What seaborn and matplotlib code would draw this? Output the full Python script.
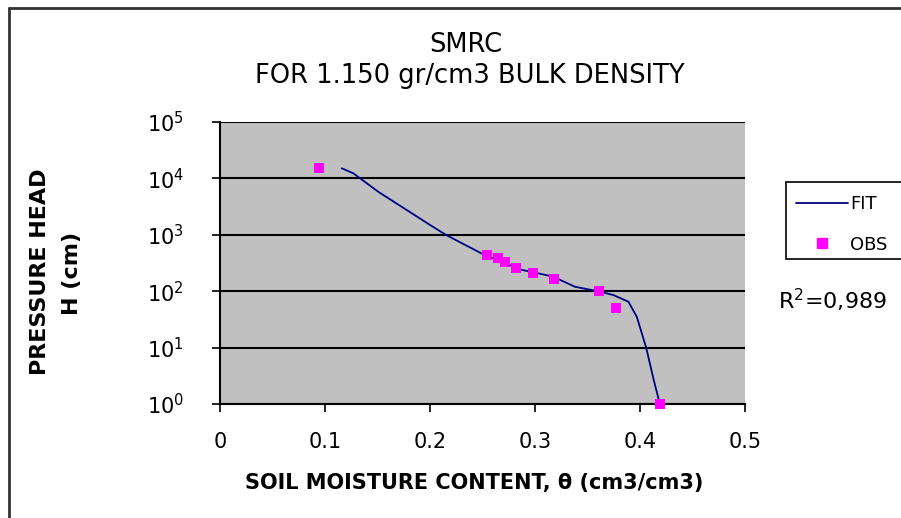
import matplotlib
matplotlib.use("Agg")
import matplotlib.pyplot as plt
from matplotlib.lines import Line2D
from matplotlib.patches import Rectangle
import pandas as pd
import seaborn as sns

# Observed retention points: volumetric water content vs pressure head (cm)
obs_theta = [0.094, 0.254, 0.265, 0.271, 0.282, 0.298, 0.318, 0.361, 0.377, 0.419]
obs_head = [15500, 444, 383, 333, 261, 208, 165, 102, 51, 1.0]

# Fitted retention curve
fit_theta = [0.116, 0.127, 0.151, 0.198, 0.215, 0.249, 0.287, 0.317, 0.338,
             0.362, 0.375, 0.389, 0.397, 0.406, 0.413, 0.418]
fit_head = [15100, 12300, 5750, 1580, 1000, 468, 240, 182, 120,
            98, 85, 65, 35, 9.8, 2.7, 1.17]

x_ticks = [0, 0.1, 0.2, 0.3, 0.4, 0.5]
x_ticklabels = ["0", "0.1", "0.2", "0.3", "0.4", "0.5"]
y_ticks = [1, 10, 100, 1000, 10000, 100000]

fit_df = pd.DataFrame({"theta": fit_theta, "head": fit_head})
obs_df = pd.DataFrame({"theta": obs_theta, "head": obs_head})

sns.set_style("white")
plt.rcParams["font.family"] = ["DejaVu Sans"]
plt.rcParams["text.color"] = "black"
plt.rcParams["axes.labelcolor"] = "black"
plt.rcParams["xtick.color"] = "black"
plt.rcParams["ytick.color"] = "black"

W, H = 901, 518
fig = plt.figure(figsize=(W / 100, H / 100), dpi=100)
fig.patch.set_facecolor("white")
ax = fig.add_axes([220 / W, 1 - 404 / H, 525 / W, 282 / H])
ax.set_facecolor("#C0C0C0")

sns.lineplot(data=fit_df, x="theta", y="head", sort=False, color="#000080",
             linewidth=1.3, ax=ax, label="FIT", legend=False)
sns.scatterplot(data=obs_df, x="theta", y="head", marker="s", color="#FF00FF",
                s=62, linewidth=0, ax=ax, label="OBS", legend=False,
                clip_on=False, zorder=5)

ax.set_yscale("log")
ax.set_xlim(0, 0.5)
ax.set_ylim(1, 1e5)
ax.set_xticks(x_ticks)
ax.set_xticklabels(x_ticklabels)
ax.set_yticks(y_ticks)
ax.minorticks_off()
ax.yaxis.grid(True, color="black", linewidth=1.5)
ax.xaxis.grid(False)
ax.set_axisbelow(True)

for side in ("top", "right"):
    ax.spines[side].set_visible(False)
for side in ("left", "bottom"):
    ax.spines[side].set_color("black")
    ax.spines[side].set_linewidth(1.5)

ax.tick_params(axis="both", direction="out", length=6, width=1.2,
               colors="black", labelsize=15, left=True, bottom=True)
ax.tick_params(axis="x", pad=14)
ax.tick_params(axis="y", pad=20)

ax.set_xlabel("SOIL MOISTURE CONTENT, θ (cm3/cm3)", fontsize=15,
              fontweight="bold")
ax.xaxis.set_label_coords(0.484, -0.245)
ax.set_ylabel("")

fig.text(40 / W, 1 - 272 / H, "PRESSURE HEAD", rotation=90, fontsize=16,
         fontweight="bold", ha="center", va="center")
fig.text(72 / W, 1 - 273 / H, "H (cm)", rotation=90, fontsize=16,
         fontweight="bold", ha="center", va="center")

fig.text(466 / W, 1 - 45 / H, "SMRC", fontsize=18.5, ha="center", va="center")
fig.text(470 / W, 1 - 76 / H, "FOR 1.150 gr/cm3 BULK DENSITY", fontsize=18.5,
         ha="center", va="center")

# Legend box running off the right edge
fig.add_artist(Rectangle((786 / W, 1 - 259 / H), 130 / W, 77 / H,
                         transform=fig.transFigure, facecolor="white",
                         edgecolor="black", linewidth=1.2, clip_on=False))
handles = [Line2D([], [], color="#000080", linewidth=1.3),
           Line2D([], [], marker="s", color="#FF00FF", linestyle="none",
                  markersize=7.5)]
fig.legend(handles, ["FIT", "OBS"], loc="upper left",
           bbox_to_anchor=(796 / W, 1 - 195 / H), frameon=False,
           fontsize=13, handlelength=2.9, handletextpad=0.1,
           labelspacing=1.25, borderaxespad=0, borderpad=0)

fig.text(778 / W, 1 - 300 / H, "R$^2$=0,989", fontsize=16, ha="left",
         va="center")

# Outer frame on the left and top
fig.add_artist(Line2D([9 / W, 9 / W], [0, 1 - 8 / H], transform=fig.transFigure,
                      color="#333333", linewidth=2))
fig.add_artist(Line2D([9 / W, 1], [1 - 8 / H, 1 - 8 / H],
                      transform=fig.transFigure, color="#333333", linewidth=2))

fig.savefig("out.png", dpi=100)
